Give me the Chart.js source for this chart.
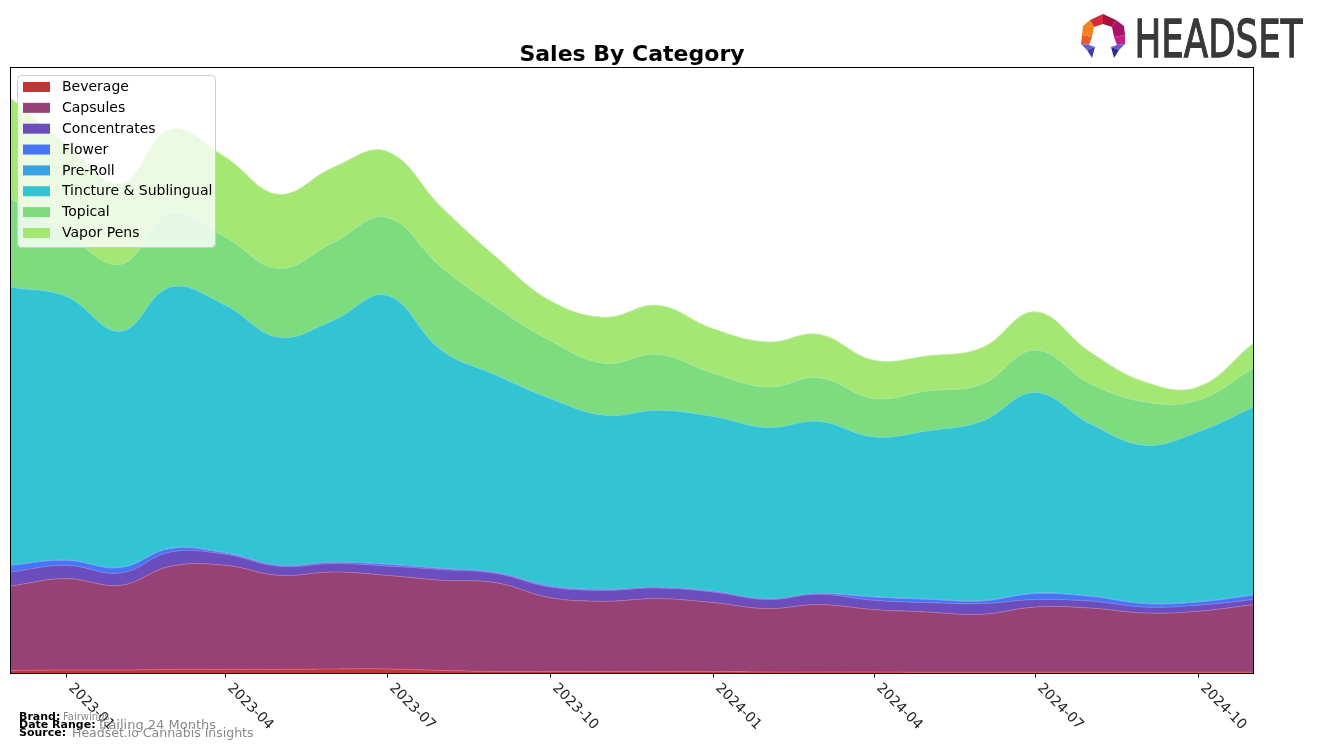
<!DOCTYPE html>
<html>
<head>
<meta charset="utf-8">
<script src="https://cdn.jsdelivr.net/npm/chart.js@4.4.1/dist/chart.umd.min.js"></script>
<style>
  html, body { margin: 0; padding: 0; background: #fff; }
  #wrap { width: 1317px; height: 749px; }
</style>
</head>
<body>
<div id="wrap"><canvas id="salesChart" width="1317" height="749"></canvas></div>
<script>
// monthly points, Dec 2022 .. Nov 2024
const months = ['2022-12', '2023-01', '2023-02', '2023-03', '2023-04', '2023-05', '2023-06', '2023-07',
  '2023-08', '2023-09', '2023-10', '2023-11', '2023-12', '2024-01', '2024-02', '2024-03',
  '2024-04', '2024-05', '2024-06', '2024-07', '2024-08', '2024-09', '2024-10', '2024-11'];
const tickMonths = ['2023-01', '2023-04', '2023-07', '2023-10', '2024-01', '2024-04', '2024-07', '2024-10'];

const categories = ['Beverage', 'Capsules', 'Concentrates', 'Flower', 'Pre-Roll',
  'Tincture & Sublingual', 'Topical', 'Vapor Pens'];

const beverage = [2.5, 3, 3, 3.5, 3.5, 3.5, 4, 4, 2.5, 1.5, 1.5, 1.5, 1.5, 1.5, 1, 1, 1, 0.8, 0.8, 0.8, 0.8, 0.8, 0.8, 0.8];
const capsules = [84.5, 91.4, 84.7, 103.2, 104.2, 94.2, 97, 93.7, 90.2, 88.7, 73.9, 70.2, 72.9, 68.9, 63.4, 67.4, 62.4, 60.2, 57.9, 65.2, 64.2, 59.2, 60.9, 67.6];
const concentrates = [14, 13.3, 12.3, 14.3, 11, 9, 8.4, 9.3, 10.7, 9.2, 10.6, 11, 10.6, 10.6, 9, 10.3, 9.3, 9.4, 10.7, 7.4, 7, 6, 6, 5];
const flower = [6.7, 5, 5.4, 3.5, 1.3, 1, 1.3, 1.7, 1, 0.8, 1, 0.7, 0.4, 0.7, 0.6, 0.7, 3.3, 3.3, 2.6, 6, 4.7, 3.4, 3.3, 4.3];
const preRoll = [0.3, 0.3, 0.3, 0.4, 0.4, 0.3, 0.3, 0.3, 0.3, 0.3, 0.3, 0.3, 0.3, 0.3, 0.3, 0.3, 0.4, 0.4, 0.4, 0.5, 0.4, 0.4, 0.4, 0.5];
const tincture = [277.7, 263.7, 236, 261, 247.4, 227.7, 241.7, 268.7, 218, 197.2, 187.4, 174, 177, 174.7, 171.1, 172, 159.7, 168, 179.4, 200.7, 172.4, 158, 169.7, 187.4];
const topical = [88.7, 63, 67, 74, 68, 69, 78, 78, 83, 68, 58, 52, 56, 43.3, 40.6, 43.7, 38.4, 40, 37, 42.3, 40, 43.3, 31.7, 39];
const vaporPens = [100, 90, 81, 84, 80, 74, 75, 66, 60, 50, 40, 46, 49, 44.4, 45, 43.3, 38.3, 35, 36.5, 38.3, 31.6, 20, 13.3, 25];

const seriesValues = [beverage, capsules, concentrates, flower, preRoll, tincture, topical, vaporPens];
const colors = ['#c43535', '#964276', '#6b4dbd', '#4676f5', '#3b9fe3', '#33c4d3', '#7ddc7d', '#a4e773'];
const edgeColors = ['#d76a6a', '#b5739c', '#8f7bd0', '#7a9cf7', '#77bdec', '#6fd6e0', '#a6e8a6', '#c2ef9f'];

// month string -> day number, so the linear axis spaces months by real length
function dayOf(m) {
  const [y, mo] = m.split('-').map(Number);
  return Date.UTC(y, mo - 1, 1) / 86400000;
}

const datasets = categories.map((name, i) => ({
  label: name,
  data: months.map((m, j) => ({ x: dayOf(m), y: seriesValues[i][j] })),
  backgroundColor: colors[i],
  borderColor: edgeColors[i],
  borderWidth: 0.8,
  fill: i === 0 ? 'origin' : '-1',
  pointRadius: 0,
  tension: 0.4
}));

const decorPlugin = {
  id: 'decor',
  afterDraw(chart) {
    const ctx = chart.ctx;
    const area = chart.chartArea;
    const xScale = chart.scales.x;
    ctx.save();

    // frame
    ctx.strokeStyle = '#000';
    ctx.lineWidth = 1;
    ctx.strokeRect(area.left - 0.5, area.top - 0.5, area.right - area.left + 1, area.bottom - area.top + 1);

    // ticks + rotated labels
    ctx.fillStyle = '#222';
    ctx.font = '14px "DejaVu Sans"';
    tickMonths.forEach(m => {
      const x = Math.round(xScale.getPixelForValue(dayOf(m))) + 0.5;
      ctx.beginPath();
      ctx.moveTo(x, area.bottom);
      ctx.lineTo(x, area.bottom + 4.5);
      ctx.stroke();
      ctx.save();
      ctx.translate(x + 4, area.bottom + 13);
      ctx.rotate(Math.PI / 4);
      ctx.textAlign = 'left';
      ctx.textBaseline = 'middle';
      ctx.fillText(m, 0, 0);
      ctx.restore();
    });

    // title
    ctx.fillStyle = '#000';
    ctx.font = 'bold 22px "DejaVu Sans"';
    ctx.textAlign = 'center';
    ctx.textBaseline = 'alphabetic';
    ctx.fillText('Sales By Category', (area.left + area.right) / 2, 61);

    // legend
    const lx = 17, ly = 75, lw = 198, lh = 172;
    ctx.fillStyle = 'rgba(255,255,255,0.8)';
    ctx.strokeStyle = '#cccccc';
    ctx.beginPath();
    ctx.roundRect(lx + 0.5, ly + 0.5, lw, lh, 4);
    ctx.fill();
    ctx.stroke();
    ctx.font = '14px "DejaVu Sans"';
    ctx.textAlign = 'left';
    ctx.textBaseline = 'middle';
    categories.forEach((name, i) => {
      const cy = 87 + i * 20.85;
      ctx.fillStyle = colors[i];
      ctx.fillRect(23, cy - 5, 27, 10);
      ctx.fillStyle = '#000';
      ctx.fillText(name, 62, cy + 0.5);
    });

    // footer
    ctx.textBaseline = 'alphabetic';
    ctx.fillStyle = '#000';
    ctx.font = 'bold 11px "DejaVu Sans"';
    ctx.fillText('Brand:', 19, 720);
    ctx.fillText('Date Range:', 19, 728);
    ctx.fillText('Source:', 19, 736);
    ctx.fillStyle = '#888';
    ctx.font = '10px "DejaVu Sans"';
    ctx.fillText('Fairwinds', 63, 720);
    ctx.font = '13px "DejaVu Sans"';
    ctx.fillText('Trailing 24 Months', 97, 729);
    ctx.font = '12.5px "DejaVu Sans"';
    ctx.fillText('Headset.io Cannabis Insights', 72, 737);

    // logo mark
    const poly = (pts, fill) => {
      ctx.fillStyle = fill;
      ctx.beginPath();
      pts.forEach((p, k) => k ? ctx.lineTo(p[0], p[1]) : ctx.moveTo(p[0], p[1]));
      ctx.closePath();
      ctx.fill();
    };
    poly([[1090, 20], [1103, 14], [1103, 24], [1094, 27]], '#d32a3e');
    poly([[1103, 14], [1116, 20], [1112, 27], [1103, 24]], '#a5123c');
    poly([[1090, 20], [1094, 27], [1092, 37], [1082, 35], [1083, 26]], '#f58220');
    poly([[1082, 35], [1092, 37], [1089, 45], [1081, 44]], '#ea5a2a');
    poly([[1116, 20], [1124, 26], [1125, 35], [1114, 37], [1112, 27]], '#a8126a');
    poly([[1114, 37], [1125, 35], [1125, 44], [1117, 45]], '#c0208a');
    poly([[1081, 44], [1089, 45], [1095, 47], [1087, 50]], '#6060dc');
    poly([[1087, 50], [1095, 47], [1092, 58]], '#3a3aa8');
    poly([[1125, 44], [1117, 45], [1111, 47], [1119, 50]], '#6a55d4');
    poly([[1119, 50], [1111, 47], [1114, 58]], '#2b2b8f');

    // logo word
    ctx.fillStyle = '#383838';
    ctx.strokeStyle = '#383838';
    ctx.lineWidth = 1.3;
    ctx.font = '51px "DejaVu Sans"';
    ctx.textAlign = 'left';
    ctx.textBaseline = 'alphabetic';
    const w = ctx.measureText('HEADSET').width;
    ctx.save();
    ctx.translate(1134.5, 57);
    ctx.scale(168 / w, 1);
    ctx.fillText('HEADSET', 0, 0);
    ctx.strokeText('HEADSET', 0, 0);
    ctx.restore();

    ctx.restore();
  }
};

new Chart(document.getElementById('salesChart'), {
  type: 'line',
  data: { datasets },
  options: {
    responsive: false,
    animation: false,
    devicePixelRatio: 1,
    layout: { padding: { left: 11, right: 64, top: 68, bottom: 76 } },
    plugins: {
      legend: { display: false },
      tooltip: { enabled: false },
      title: { display: false }
    },
    scales: {
      x: {
        type: 'linear',
        display: false,
        min: dayOf(months[0]),
        max: dayOf(months[months.length - 1])
      },
      y: {
        display: false,
        stacked: true,
        min: 0,
        max: 605
      }
    }
  },
  plugins: [decorPlugin]
});
</script>
</body>
</html>
